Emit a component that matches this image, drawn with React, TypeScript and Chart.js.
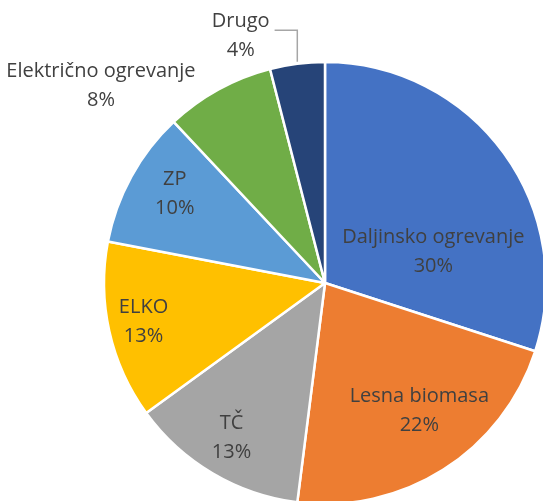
import React, { useEffect, useRef } from "react";
import { Chart, registerables } from "chart.js";

Chart.register(...registerables);

const categories = [
  "Daljinsko ogrevanje",
  "Lesna biomasa",
  "TČ",
  "ELKO",
  "ZP",
  "Električno ogrevanje",
  "Drugo",
];
const shares = [30, 22, 13, 13, 10, 8, 4];
const colors = ["#4472C4", "#ED7D31", "#A5A5A5", "#FFC000", "#5B9BD5", "#70AD47", "#264478"];

// label placement: radius factor, angle fraction within slice, leader line
const labelRadius = [0.51, 0.72, 0.82, 0.84, 0.79, 1.35, 1.18];
const labelAngleFrac = [0.685, 0.45, 0.51, 0.51, 0.55, -0.19, -0.31];
const labelLeader = [false, false, false, false, false, false, true];

const FONT = "20px 'Open Sans', Lato, sans-serif";

const labelPlugin = {
  id: "sliceLabels",
  afterDatasetsDraw(chart: any) {
    const ctx = chart.ctx;
    const meta = chart.getDatasetMeta(0);
    ctx.save();
    ctx.font = FONT;
    ctx.fillStyle = "#404040";
    ctx.textAlign = "center";
    ctx.textBaseline = "middle";
    meta.data.forEach((arc: any, i: number) => {
      const { x, y, startAngle, endAngle, outerRadius } = arc.getProps(
        ["x", "y", "startAngle", "endAngle", "outerRadius"],
        true
      );
      const a = startAngle + (endAngle - startAngle) * labelAngleFrac[i];
      const r = outerRadius * labelRadius[i];
      const lx = x + r * Math.cos(a);
      const ly = y + r * Math.sin(a);
      const line1 = categories[i];
      const line2 = shares[i] + "%";
      ctx.fillText(line1, lx, ly - 14.5);
      ctx.fillText(line2, lx, ly + 14.5);
      if (labelLeader[i]) {
        const mid = (startAngle + endAngle) / 2;
        const ex = x + outerRadius * Math.cos(mid);
        const ey = y + outerRadius * Math.sin(mid);
        const w = ctx.measureText(line1).width;
        const sx = lx + w / 2 + 5;
        const sy = ly - 6;
        ctx.strokeStyle = "#A6A6A6";
        ctx.lineWidth = 1.5;
        ctx.beginPath();
        ctx.moveTo(sx, sy);
        ctx.lineTo(ex, sy);
        ctx.lineTo(ex, ey - 2);
        ctx.stroke();
      }
    });
    ctx.restore();
  },
};

export default function App() {
  const ref = useRef<HTMLCanvasElement>(null);
  useEffect(() => {
    if (!ref.current) return;
    const chart = new Chart(ref.current, {
      type: "pie",
      data: {
        labels: categories,
        datasets: [
          {
            data: shares,
            backgroundColor: colors,
            borderColor: "#FFFFFF",
            borderWidth: 2.5,
          },
        ],
      },
      options: {
        animation: false,
        responsive: false,
        radius: 221,
        layout: { padding: { left: 107, top: 65, right: 0, bottom: 0 } },
        plugins: {
          legend: { display: false },
          tooltip: { enabled: false },
        },
      },
      plugins: [labelPlugin],
    });
    return () => chart.destroy();
  }, []);
  return (
    <div style={{ position: "fixed", left: 0, top: 0, width: 543, height: 501, background: "#fff" }}>
      <canvas ref={ref} width={543} height={501} style={{ width: 543, height: 501 }} />
    </div>
  );
}
